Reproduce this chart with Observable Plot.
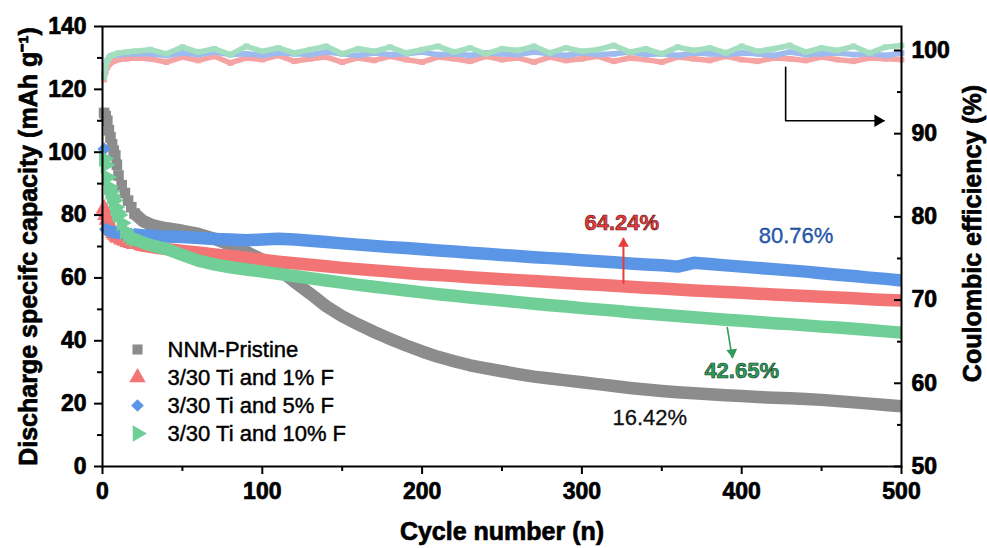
<!DOCTYPE html>
<html><head><meta charset="utf-8">
<script src="https://cdn.jsdelivr.net/npm/d3@7"></script>
<script src="https://cdn.jsdelivr.net/npm/@observablehq/plot@0.6"></script>
<style>html,body{margin:0;padding:0;background:#fff}</style>
</head><body><div id="chart"></div>
<script>
// ---------- data ----------
const cycles = [1,2,3,4,5,6,7,8,9,10,12,14,16,18,20,25,30,35,40,
  50,60,70,80,90,100,110,120,130,140,150,160,170,180,190,200,210,220,230,240,250,260,270,280,290,300,
  310,320,330,340,350,360,370,380,390,400,410,420,430,440,450,460,470,480,490,500];

const capPristine = [112.5,111.5,110,107,104.7,102.5,100.5,99,96,92.6,89.5,87,84.6,82.5,80.5,78.2,77,76.3,75.8,
  75,74,72.5,70.5,68.3,65.8,62.8,58.8,55,51,47.8,45.2,42.8,40.6,38.5,36.6,34.9,33.5,32.2,31.2,
  30.3,29.4,28.6,28,27.4,26.8,26.2,25.6,25,24.5,24,23.6,23.3,23,22.7,22.4,22.1,21.9,21.7,21.5,
  21.2,20.8,20.4,20,19.6,19.2];
const capTi1F = [82,80,78.5,77,76,75,74.3,73.7,73.2,72.8,72.2,71.8,71.4,71.1,70.8,70.3,69.9,69.5,69.2,
  68.6,68.1,67.5,67,66.4,65.8,65.2,64.7,64.2,63.7,63.2,62.8,62.4,62,61.6,61.2,60.9,60.6,60.2,59.9,
  59.6,59.3,59,58.7,58.4,58.1,57.8,57.5,57.2,56.9,56.6,56.3,56,55.75,55.5,55.25,55,54.75,54.5,54.25,
  54,53.75,53.5,53.25,53,52.8];
const capTi5F = [101,75.5,75.2,75,74.8,74.7,74.6,74.5,74.4,74.3,74.2,74.1,74,73.9,73.8,73.6,73.5,73.3,73.2,
  73,72.7,72.4,72.2,72,72.2,72.5,72.2,71.8,71.4,71,70.6,70.2,69.8,69.5,69.1,68.7,68.4,68,67.7,
  67.3,67,66.6,66.3,66,65.6,65.3,65,64.6,64.3,64,63.6,64.8,64.4,64,63.6,63.2,62.8,62.4,62,
  61.5,61,60.6,60.1,59.7,59.2];
const capTi10F = [98,96,92,89,87.5,86,84.6,82.5,81,80,77.5,75,73.8,73,72.4,71.3,70.5,69.8,69.2,
  67.3,65.5,64.3,63.4,62.7,62,61.3,60.6,59.9,59.2,58.5,57.8,57.2,56.6,56,55.4,54.8,54.3,53.8,53.3,
  52.8,52.3,51.8,51.3,50.9,50.4,50,49.6,49.1,48.7,48.3,47.9,47.5,47.1,46.7,46.4,46,45.6,45.3,44.9,
  44.5,44.2,43.8,43.4,43,42.6];

const ceCycles = [1,2,3,4,5,7,10,15,20,30,40,50,60,70,80,90,100,110,120,130,140,150,160,170,180,190,200,
  210,220,230,240,250,260,270,280,290,300,310,320,330,340,350,360,370,380,390,400,410,420,430,440,450,460,470,480,490,500];
const ceTi1F = [96.5,97.5,98.0,98.3,98.5,98.7,98.9,99.0,99.1,
  99.0,98.6,99.2,98.8,99.3,98.5,99.1,98.9,99.4,98.7,
  99.0,99.2,98.6,99.1,98.8,99.3,98.9,98.6,99.2,99.0,
  98.7,99.3,98.9,99.1,98.6,99.2,98.8,99.0,99.3,98.7,
  99.1,98.9,98.6,99.2,99.0,98.8,99.3,98.9,98.7,99.1,
  99.0,98.8,99.2,98.9,98.7,99.1,99.0,98.9];
const ceTi5F = [97.2,98.2,98.8,99.1,99.3,99.4,99.5,99.6,99.6,
  99.6,99.4,99.7,99.5,99.8,99.5,99.6,99.4,99.7,99.6,
  99.5,99.8,99.6,99.4,99.7,99.5,99.6,99.8,99.5,99.6,
  99.4,99.7,99.6,99.5,99.8,99.6,99.4,99.7,99.5,99.6,
  99.8,99.5,99.6,99.4,99.7,99.6,99.5,99.7,99.6,99.4,
  99.8,99.5,99.6,99.7,99.5,99.6,99.4,99.7];
const ceTi10F = [96.8,98.0,98.7,99.1,99.3,99.5,99.7,99.8,99.9,
  100.1,99.6,100.4,99.8,100.2,99.5,100.5,99.9,100.3,99.7,
  100.1,100.5,99.6,100.2,99.9,100.4,99.7,100.1,100.5,99.8,
  100.3,99.6,100.2,100.0,100.5,99.7,100.3,99.9,100.1,100.6,
  99.8,100.2,99.6,100.4,100.0,100.3,99.7,100.5,99.9,100.2,
  100.6,99.8,100.3,100.0,100.5,99.7,100.4,100.6];

const seriesNames = ["NNM-Pristine","3/30 Ti and 1% F","3/30 Ti and 5% F","3/30 Ti and 10% F"];
const xTicks = [0,100,200,300,400,500];
const xMinor = [50,150,250,350,450];
const capTicks = [0,20,40,60,80,100,120,140];
const capMinor = [10,30,50,70,90,110,130];
const ceTicks = [50,60,70,80,90,100];
const ceMinor = [55,65,75,85,95];

const annoLabels = ["64.24%","80.76%","42.65%","16.42%"];
const annoCycle = [325,434,400,342.5];
const annoCap = [77.6,73.5,30.5,15.6];
const redArrow = [{cycle:326,cap:58.5},{cycle:326,cap:72.5}];
const greenArrow = [{cycle:391,cap:44.2},{cycle:394,cap:34.7}];
const ceArrow = [{cycle:427.5,cap:127},{cycle:427.5,cap:110},{cycle:489,cap:110}];

// ---------- styles ----------
const capColors = ["#8c8c8c","#f27474","#5b96e6","#6fcf97"];
const ceColors = ["#f6a3a3","#9dbbee","#a3dfbf"];
const symbols = ["square","triangle","diamond2","triangle"];
const symR = [6,6.4,6,6.4];
const symRot = [0,0,0,90];
const FONT = "'Liberation Sans', Arial, Helvetica, sans-serif";

const ceMin = 50, ceMax = 102.88, capMax = 140;
const ceToCap = v => (v - ceMin) * capMax / (ceMax - ceMin);
const capToCe = v => ceMin + v * (ceMax - ceMin) / capMax;

const marks = [];

// Coulombic efficiency (right axis), mapped into capacity space
[ceTi1F, ceTi5F, ceTi10F].forEach((vals, i) => {
  const n = Math.min(vals.length, ceCycles.length);
  const data = d3.range(n).map(j => ({cycle: ceCycles[j], cap: ceToCap(vals[j])}));
  marks.push(Plot.line(data, {x: "cycle", y: "cap", stroke: ceColors[i], strokeWidth: 5.5}));
  marks.push(Plot.dot(data, {x: "cycle", y: "cap", symbol: "square", fill: ceColors[i], r: 3.2}));
});

// Discharge capacity
[capPristine, capTi1F, capTi5F, capTi10F].forEach((vals, i) => {
  const n = Math.min(vals.length, cycles.length);
  const data = d3.range(n).map(j => ({cycle: cycles[j], cap: vals[j]}));
  marks.push(Plot.line(data.filter(d => d.cycle >= 20), {x: "cycle", y: "cap", stroke: capColors[i], strokeWidth: 12.5, strokeLinecap: "butt", strokeLinejoin: "round"}));
  marks.push(Plot.dot(data.filter(d => d.cycle <= 20), {x: "cycle", y: "cap", symbol: symbols[i], fill: capColors[i], r: symR[i], rotate: symRot[i]}));
});

// annotations
const annoStyles = [
  {fill: "#e83c3c", stroke: "#5a0f0f", strokeWidth: 0.6, fontWeight: "bold"},
  {fill: "#2560c0", stroke: "#0e2c66", strokeWidth: 0.3, fontWeight: "normal"},
  {fill: "#2f9b5c", stroke: "#0f3d22", strokeWidth: 0.6, fontWeight: "bold"},
  {fill: "#111111", stroke: "#111111", strokeWidth: 0.3, fontWeight: "normal"}
];
annoLabels.forEach((lab, i) => {
  marks.push(Plot.text([{cycle: annoCycle[i], cap: annoCap[i], lab}], {
    x: "cycle", y: "cap", text: "lab", fontSize: 22, fontFamily: FONT,
    textAnchor: "middle", lineAnchor: "middle", paintOrder: "normal", ...annoStyles[i]
  }));
});
marks.push(Plot.line(redArrow, {x: "cycle", y: "cap", stroke: "#e83c3c", strokeWidth: 2}));
marks.push(Plot.dot(redArrow.slice(1), {x: "cycle", y: "cap", symbol: "triangle", fill: "#e83c3c", r: 4, dy: 5}));
marks.push(Plot.line(greenArrow, {x: "cycle", y: "cap", stroke: "#2f9b5c", strokeWidth: 1.6}));
marks.push(Plot.dot(greenArrow.slice(1), {x: "cycle", y: "cap", symbol: "triangle", fill: "#2f9b5c", r: 4, rotate: 173, dy: -5}));
marks.push(Plot.line(ceArrow, {x: "cycle", y: "cap", stroke: "#000", strokeWidth: 1.6}));
marks.push(Plot.dot(ceArrow.slice(2), {x: "cycle", y: "cap", symbol: "triangle", fill: "#000", r: 4.6, rotate: 90, dx: -6}));

// legend (inside plot, bottom-left)
const legendDy = [-117, -89, -61, -33];
seriesNames.forEach((name, i) => {
  marks.push(Plot.dot([name], {x: null, y: null, frameAnchor: "bottom-left", dx: 35, dy: legendDy[i], symbol: symbols[i], fill: capColors[i], r: symR[i] * 0.95, rotate: symRot[i]}));
  marks.push(Plot.text([name], {x: null, y: null, text: d => d, frameAnchor: "bottom-left", dx: 65, dy: legendDy[i], textAnchor: "start", lineAnchor: "middle", fontSize: 22, fontFamily: FONT, fill: "#000", stroke: "#000", strokeWidth: 0.45, paintOrder: "normal"}));
});

// axes
const tickText = {fontSize: 23, fontWeight: "bold", fontFamily: FONT, color: "#000", label: null, strokeWidth: 2, textStroke: "#000", textStrokeWidth: 0.7};
marks.push(
  Plot.axisY(capTicks, {anchor: "left", tickSize: 8, tickPadding: 8, ...tickText}),
  Plot.axisY(capMinor, {anchor: "left", tickSize: 5, fill: "none", label: null, strokeWidth: 2}),
  Plot.axisX(xTicks, {anchor: "bottom", tickSize: 8, tickPadding: 8, ...tickText}),
  Plot.axisX(xMinor, {anchor: "bottom", tickSize: 5, fill: "none", label: null, strokeWidth: 2}),
  Plot.axisY(ceTicks.map(ceToCap), {anchor: "right", tickSize: -8, tickPadding: 18, tickFormat: d => String(Math.round(capToCe(d))), ...tickText}),
  Plot.axisY(ceMinor.map(ceToCap), {anchor: "right", tickSize: -5, fill: "none", label: null, strokeWidth: 2}),
  Plot.frame({stroke: "#000", strokeWidth: 2})
);

// axis titles
const titleStyle = {fontSize: 25, fontWeight: "bold", fontFamily: FONT, fill: "#000", stroke: "#000", strokeWidth: 0.7, paintOrder: "normal", lineAnchor: "middle", textAnchor: "middle"};
marks.push(
  Plot.text(["Discharge specifc capacity (mAh g\u207B\u00B9)"], {x: null, y: null, text: d => d, frameAnchor: "left", dx: -74, rotate: -90, ...titleStyle}),
  Plot.text(["Coulombic efficiency (%)"], {x: null, y: null, text: d => d, frameAnchor: "right", dx: 71, dy: -13, rotate: -90, ...titleStyle}),
  Plot.text(["Cycle number (n)"], {x: null, y: null, text: d => d, frameAnchor: "bottom", dy: 65, ...titleStyle})
);

const chart = Plot.plot({
  width: 987, height: 548,
  marginLeft: 102, marginRight: 86, marginTop: 26, marginBottom: 82,
  x: {domain: [0, 500]},
  y: {domain: [0, capMax]},
  style: {fontFamily: FONT, background: "#fff", overflow: "visible"},
  marks
});
document.getElementById("chart").appendChild(chart);
</script>
</body></html>
